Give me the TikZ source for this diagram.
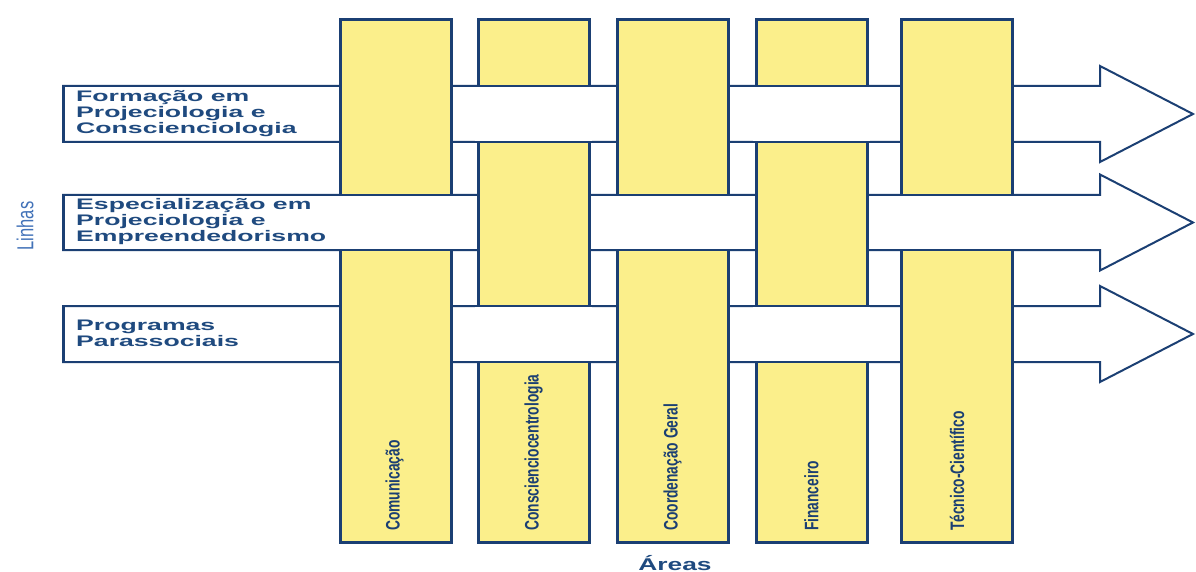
\documentclass[tikz,border=0pt]{standalone}
\usepackage{fontspec}
\setmainfont{Liberation Sans}
\definecolor{navy}{HTML}{1B3F73}
\definecolor{labelnavy}{HTML}{1F4A7F}
\definecolor{linhasblue}{HTML}{4272B8}
\definecolor{colyellow}{RGB}{251,239,139}
\tikzset{
  bandline/.style={draw=navy, line width=2pt, line join=miter},
  bandshape/.style={bandline, fill=white},
  colbox/.style={draw=navy, fill=colyellow, line width=3pt, inner sep=0pt,
                 minimum width=111pt, minimum height=522pt},
  bandtxt/.style={text=labelnavy, font=\bfseries\fontsize{15.3}{16}\selectfont, inner sep=0pt},
  coltxt/.style={text=navy, font=\bfseries\fontsize{15}{16}\selectfont, inner sep=0pt, rotate=90, anchor=west},
}
\newcommand{\coltext}[1]{\scalebox{0.92}[1.3]{#1}}
\begin{document}
\begin{tikzpicture}[x=1pt,y=-1pt]
\useasboundingbox (0,0) rectangle (1196,572);
% bands (lines) with arrow heads
\foreach \j/\t/\b in {1/86/142,2/195/250,3/306/362}{
  \pgfmathsetmacro\c{(\t+\b)/2}
  \path[bandshape] (63,\t) -- (1100,\t) -- (1100,\c-48) -- (1193,\c) -- (1100,\c+48) -- (1100,\b) -- (63,\b) -- cycle;
  \draw[navy, line width=3pt] (63,\t-1) -- (63,\b+1);
}
% columns (areas)
\foreach \i/\l in {1/340,2/478,3/617,4/756,5/901}{
  \node[colbox] (col\i) at (\l+55.5,281) {};
}
% band passes over column where i+j is odd
\foreach \l/\t/\b in {478/86/142, 756/86/142,
                      340/195/250, 617/195/250, 901/195/250,
                      478/306/362, 756/306/362}{
  \fill[white] (\l-2.6,\t) rectangle (\l+113.6,\b);
  \draw[bandline] (\l-2.6,\t) -- (\l+113.6,\t) (\l-2.6,\b) -- (\l+113.6,\b);
}
% band labels
\node[bandtxt, anchor=west] (b1) at (76,114.5) {\scalebox{1.74}[1]{\begin{tabular}{@{}l@{}}Formação em\\Projeciologia e\\Conscienciologia\end{tabular}}};
\node[bandtxt, anchor=west] (b2) at (76,222.5) {\scalebox{1.74}[1]{\begin{tabular}{@{}l@{}}Especialização em\\Projeciologia e\\Empreendedorismo\end{tabular}}};
\node[bandtxt, anchor=west] (b3) at (76,335) {\scalebox{1.74}[1]{\begin{tabular}{@{}l@{}}Programas\\Parassociais\end{tabular}}};
% column labels
\node[coltxt] (t1) at (394.5,531) {\coltext{Comunicação}};
\node[coltxt] (t2) at (533.5,531) {\coltext{Conscienciocentrologia}};
\node[coltxt] (t3) at (672.5,531) {\coltext{Coordenação Geral}};
\node[coltxt] (t4) at (811.5,531) {\coltext{Financeiro}};
\node[coltxt] (t5) at (957,531) {\coltext{Técnico-Científico}};
% axis labels
\node[text=linhasblue, font=\fontsize{16.5}{18}\selectfont, rotate=90, inner sep=0pt] (linhas) at (25,226) {\scalebox{1}[1.4]{Linhas}};
\node[bandtxt, font=\bfseries\fontsize{17}{18}\selectfont, anchor=base] (areas) at (675,570) {\scalebox{1.55}[1]{Áreas}};
\end{tikzpicture}
\end{document}
